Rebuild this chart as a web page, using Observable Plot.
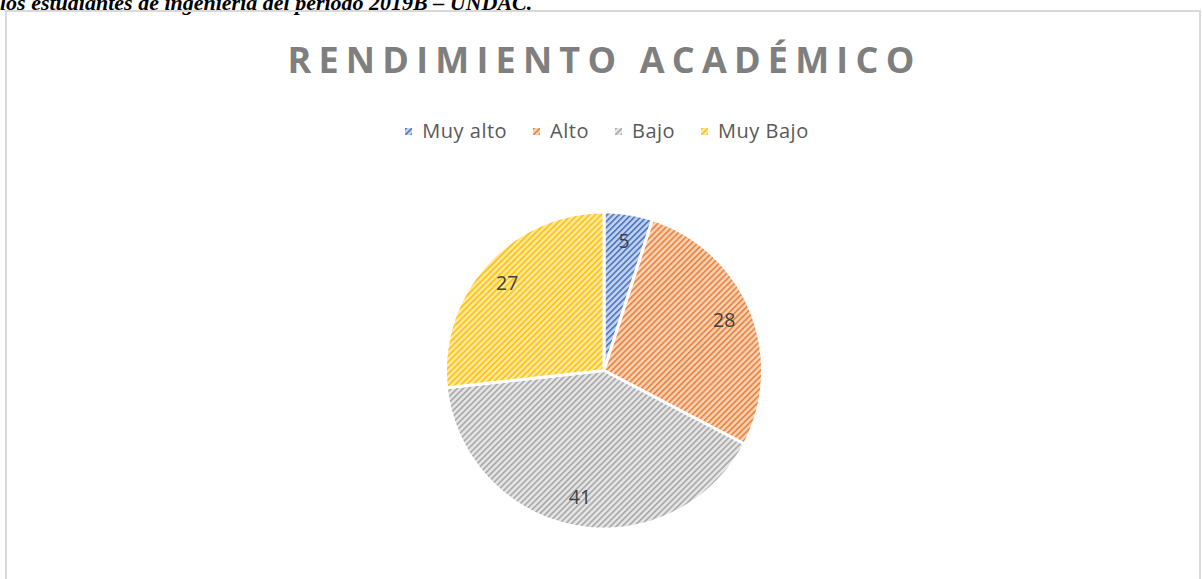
<!DOCTYPE html>
<html><head><meta charset="utf-8">
<script src="https://cdn.jsdelivr.net/npm/d3@7"></script>
<script src="https://cdn.jsdelivr.net/npm/@observablehq/plot@0.6"></script>
<style>
html,body{margin:0;padding:0;width:1202px;height:579px;overflow:hidden;background:#fff;}
#top{position:absolute;left:0;top:-12px;font:bold italic 22px "Liberation Serif","Times New Roman",serif;color:#000;white-space:nowrap;line-height:30px;}
#frame{position:absolute;left:5px;top:10px;width:1196px;height:620px;border:2px solid #d9d9d9;box-sizing:border-box;}
#chart{position:absolute;left:0;top:0;}
#title{position:absolute;left:0;top:35px;width:1202px;box-sizing:border-box;padding-left:7px;text-align:center;font:bold 36px "Open Sans",sans-serif;letter-spacing:7.2px;color:#7f7f7f;line-height:50px;}
#legend{position:absolute;left:6px;top:117px;width:1202px;display:flex;justify-content:center;font:20px "Open Sans",sans-serif;letter-spacing:0.5px;color:#595959;line-height:28px;}
#legend .item{display:flex;align-items:center;margin:0 13px;}
#legend svg{margin-right:10px;}
</style></head>
<body>
<div id="top">los estudiantes de ingeniería del periodo 2019B – UNDAC.</div>
<div id="frame"></div>
<div id="chart"></div>
<div id="title">RENDIMIENTO ACADÉMICO</div>
<div id="legend"></div>
<script>
const categories = ["Muy alto", "Alto", "Bajo", "Muy Bajo"];
const values = [5, 28, 41, 27];
const labels = ["5", "28", "41", "27"];

const baseColors = ["#4472C4", "#ED7D31", "#A5A5A5", "#FFC000"];
const tintColors = ["#c8d4ee", "#f9d3ba", "#e6e6e6", "#ffe8a6"];

const rows = categories.map((c, i) => ({cat: c, value: values[i], label: labels[i]}));
const arcs = d3.pie().sort(null).value(d => d.value)(rows);

const poly = [];
const labelRows = [];
arcs.forEach(a => {
  poly.push({cat: a.data.cat, x: 0, y: 0});
  const n = 120;
  for (let k = 0; k <= n; k++) {
    const t = a.startAngle + (a.endAngle - a.startAngle) * k / n;
    poly.push({cat: a.data.cat, x: Math.sin(t), y: Math.cos(t)});
  }
  const m = (a.startAngle + a.endAngle) / 2;
  labelRows.push({x: 0.82 * Math.sin(m), y: 0.82 * Math.cos(m), text: a.data.label});
});

const cx = 603.5, cy = 370, R = 158.5;
const chart = Plot.plot({
  width: 1202, height: 579, margin: 0,
  style: {background: "transparent", overflow: "visible"},
  x: {domain: [-1, 1], range: [cx - R, cx + R], axis: null},
  y: {domain: [-1, 1], range: [cy + R, cy - R], axis: null},
  color: {domain: categories, range: categories.map((c, i) => `url(#pat${i})`)},
  marks: [
    Plot.line(poly, {x: "x", y: "y", z: "cat", fill: "cat", stroke: "white", strokeWidth: 3, curve: "linear-closed", strokeLinejoin: "miter"}),
    Plot.text(labelRows, {x: "x", y: "y", text: "text", fontSize: 19.5, fill: "#404040", fontFamily: "Open Sans"})
  ]
});

const defs = d3.select(chart).insert("defs", ":first-child");
baseColors.forEach((col, i) => {
  const p = defs.append("pattern").attr("id", `pat${i}`).attr("patternUnits", "userSpaceOnUse")
    .attr("width", 4.2).attr("height", 4.2).attr("patternTransform", "rotate(45)");
  p.append("rect").attr("width", 4.2).attr("height", 4.2).attr("fill", tintColors[i]);
  p.append("rect").attr("width", 1.8).attr("height", 4.2).attr("fill", col).attr("fill-opacity", 0.9);
});
document.getElementById("chart").appendChild(chart);

const leg = d3.select("#legend");
categories.forEach((c, i) => {
  const it = leg.append("div").attr("class", "item");
  const s = it.append("svg").attr("width", 7).attr("height", 7);
  s.append("rect").attr("width", 7).attr("height", 7).attr("fill", `url(#pat${i})`);
  it.append("span").text(c);
});
</script>
</body></html>
